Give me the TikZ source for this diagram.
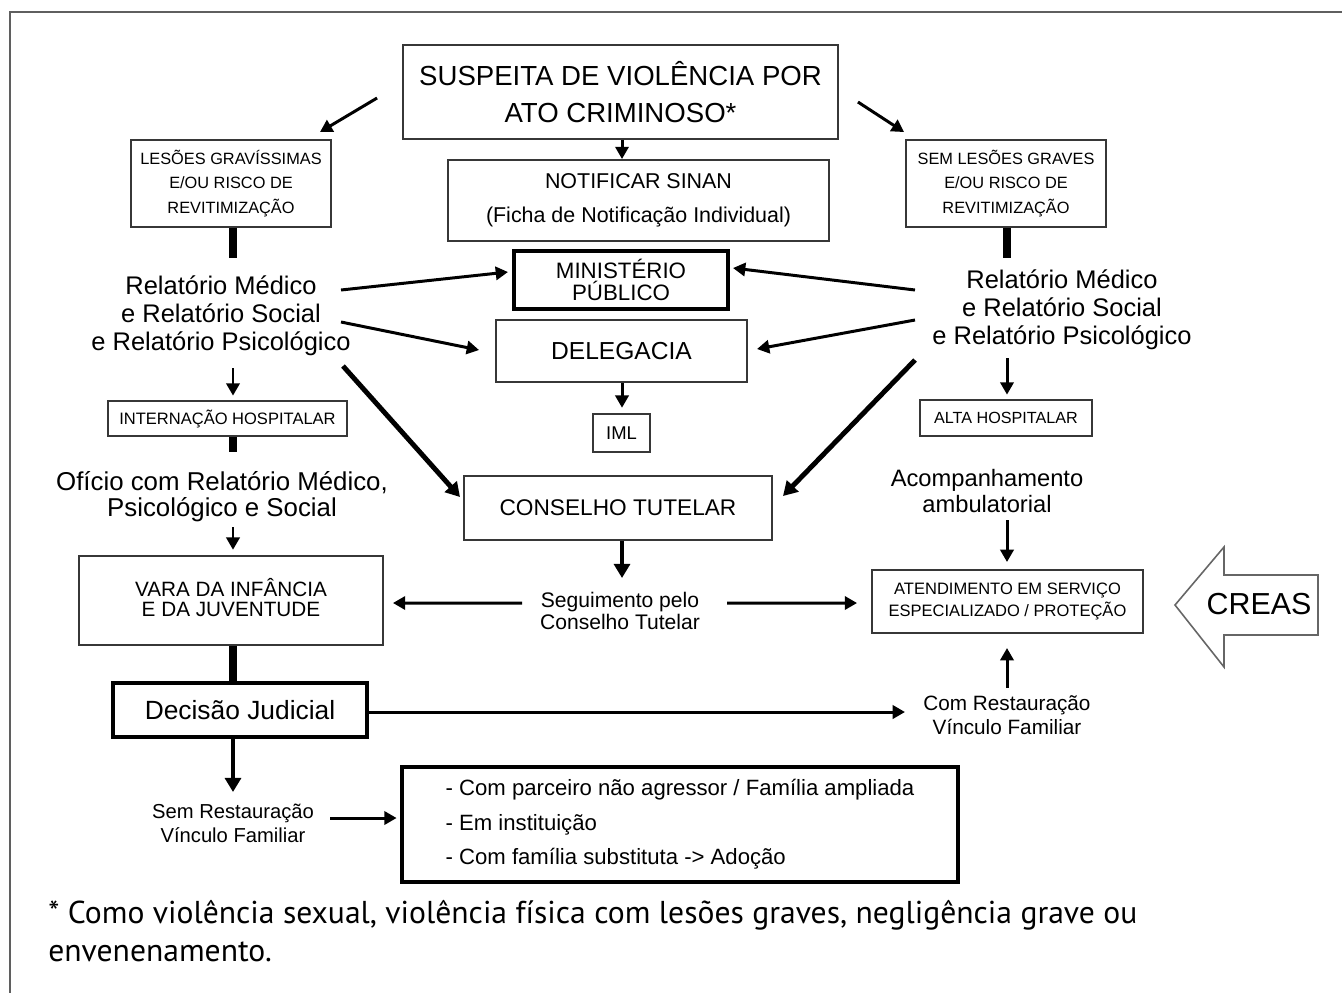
\documentclass[tikz,border=0pt]{standalone}
\usepackage{fontspec}
\setmainfont{Liberation Sans}
\newfontfamily\notafont{PT Sans}
\usetikzlibrary{arrows.meta,calc}
\definecolor{borda}{RGB}{55, 55, 55}
\definecolor{moldura}{RGB}{95, 95, 95}
\newcommand{\tam}[2]{\fontsize{#1}{#2}\selectfont}
\tikzset{
  caixa/.style={draw=borda, line width=1.1pt, align=center, inner sep=0pt},
  caixagrossa/.style={draw=black, line width=2.2pt, align=center, inner sep=0pt},
  texto/.style={align=center, inner sep=0pt},
  seta/.style={line width=1.7pt, -{Triangle[length=7pt,width=7.5pt]}},
  setagrossa/.style={line width=2.8pt, -{Triangle[length=8pt,width=9pt]}},
  haste/.style={line width=4pt},
}

\begin{document}
\begin{tikzpicture}[x=0.02cm, y=-0.02cm]
                \clip (0,0) rectangle (1342,992);
                \fill[white] (0,0) rectangle (1342,992);
                \draw[moldura, line width=1.3pt] (10,1000) -- (10,12) -- (1350,12);
                \coordinate (eixoE) at (233,0);
                \coordinate (eixoC) at (622,0);
                \coordinate (eixoD) at (1007,0);

                % topo
                \node[caixa, minimum width=8.7cm, minimum height=1.88cm, font=\tam{15.7}{21.5}] (suspeita) at (620.5,92) {SUSPEITA DE VIOLÊNCIA POR\\ATO CRIMINOSO*};
                \node[caixa, minimum width=7.62cm, minimum height=1.62cm, font=\tam{12.2}{19.3}] (notificar) at (638.5,200.5) {NOTIFICAR SINAN\\(Ficha de Notificação Individual)};
                \node[caixa, minimum width=4cm, minimum height=1.74cm, font=\tam{9.3}{14}] (graves) at (231,183.5) {LESÕES GRAVÍSSIMAS\\E/OU RISCO DE\\REVITIMIZAÇÃO};
                \node[caixa, minimum width=4cm, minimum height=1.74cm, font=\tam{9.3}{14}] (semgraves) at (1006,183.5) {SEM LESÕES GRAVES\\E/OU RISCO DE\\REVITIMIZAÇÃO};

                % relatorios
                \node[texto, font=\tam{14.5}{15.9}] (relEsq) at (221,316) {Relatório Médico\\e Relatório Social\\e Relatório Psicológico};
                \node[texto, font=\tam{14.5}{15.9}] (relDir) at (1062,310) {Relatório Médico\\e Relatório Social\\e Relatório Psicológico};

                % centro
                \node[caixagrossa, minimum width=4.28cm, minimum height=1.16cm, font=\tam{12.7}{12.5}] (ministerio) at (621,280) {MINISTÉRIO\\PÚBLICO};
                \node[caixa, minimum width=5.02cm, minimum height=1.24cm, font=\tam{14}{16}] (delegacia) at (621.5,351) {DELEGACIA};
                \node[caixa, minimum width=1.14cm, minimum height=0.76cm, font=\tam{10.5}{12}] (iml) at (621.5,433) {IML};
                \node[caixa, minimum width=6.16cm, minimum height=1.28cm, font=\tam{12.9}{15}] (conselho) at (618,508) {CONSELHO TUTELAR};
                \node[texto, font=\tam{12}{13}] (seguimento) at (620,611) {Seguimento pelo\\Conselho Tutelar};

                % coluna esquerda
                \node[caixa, minimum width=4.78cm, minimum height=0.7cm, font=\tam{9.4}{11}] (internacao) at (227.5,418.5) {INTERNAÇÃO HOSPITALAR};
                \node[texto, font=\tam{14.7}{14.7}] (oficio) at (222,497) {Ofício com Relatório Médico,\\Psicológico e Social};
                \node[caixa, minimum width=6.08cm, minimum height=1.78cm, font=\tam{11.8}{11.3}] (vara) at (231,600.5) {\raisebox{8pt}{\begin{tabular}{@{}c@{}}VARA DA INFÂNCIA\\E DA JUVENTUDE\end{tabular}}};
                \node[caixagrossa, minimum width=5.08cm, minimum height=1.08cm, font=\tam{15}{17}] (decisao) at (240,710) {Decisão Judicial};
                \node[texto, font=\tam{11.5}{13.6}] (semrest) at (233,823) {Sem Restauração\\Vínculo Familiar};
                \node[caixagrossa, minimum width=11.12cm, minimum height=2.3cm, font=\tam{12.6}{19.6}, align=left] (destino) at (680,824.5) {- Com parceiro não agressor / Família ampliada\\- Em instituição\\- Com família substituta -> Adoção};

                % coluna direita
                \node[caixa, minimum width=3.44cm, minimum height=0.72cm, font=\tam{9.2}{11}] (alta) at (1006,418) {ALTA HOSPITALAR};
                \node[texto, font=\tam{13.5}{14.7}] (acomp) at (987,491) {Acompanhamento\\ambulatorial};
                \node[caixa, minimum width=5.42cm, minimum height=1.26cm, font=\tam{9.4}{13}] (atendimento) at (1007.5,601.5) {ATENDIMENTO EM SERVIÇO\\ESPECIALIZADO / PROTEÇÃO};
                \node[texto, font=\tam{11.8}{13.6}] (comrest) at (1007,715) {Com Restauração\\Vínculo Familiar};

                % CREAS
                \draw[gray!80!black, line width=0.9pt, fill=white] (1175,605) -- (1224,547) -- (1224,575) -- (1318,575) -- (1318,635) -- (1224,635) -- (1224,667) -- cycle;
                \node[texto, font=\tam{17.3}{20}] (creas) at (1259,604) {CREAS};

                % nota
                \node[texto, anchor=west, align=left, font=\notafont\tam{18}{21.5}] (nota) at (48,931) {* Como violência sexual, violência física com lesões graves, negligência grave ou\\envenenamento.};

                % ligacoes
                \draw[seta] (suspeita.south -| eixoC) -- (notificar.north -| eixoC);
                \draw[seta] ($(suspeita.west)+(-25,6)$) -- ($(graves.north east)+(-12,-7)$);
                \draw[seta] ($(suspeita.east)+(19,10)$) -- ($(semgraves.north west)+(-1,-7)$);
                \draw[haste] (graves.south -| eixoE) -- ($(relEsq)+(12,-58)$);
                \draw[haste] (semgraves.south -| eixoD) -- ($(relDir)+(-55,-52)$);

                \draw[seta] ($(relEsq)+(120,-26)$) -- ($(ministerio)+(-113,-8)$);
                \draw[seta] ($(relEsq)+(120,6)$) -- ($(delegacia)+(-142.5,-1)$);
                \draw[setagrossa] ($(relEsq)+(122,50)$) -- ($(conselho)+(-158,-11)$);
                \draw[seta] ($(relDir)+(-147,-20)$) -- ($(ministerio)+(112,-12)$);
                \draw[seta] ($(relDir)+(-147,10)$) -- ($(delegacia)+(135.5,-2)$);
                \draw[setagrossa] ($(relDir)+(-147,50)$) -- ($(conselho)+(165,-12)$);

                \draw[seta, shorten >=3pt] (delegacia.south -| eixoC) -- (iml.north -| eixoC);
                \draw[setagrossa] (conselho.south -| eixoC) -- ($(seguimento)+(2,-33)$);
                \draw[seta] ($(seguimento)+(-98,-8)$) -- ($(vara.east)+(9,2.5)$);
                \draw[seta] ($(seguimento)+(107,-8)$) -- ($(atendimento.west)+(-14,1.5)$);

                \draw[seta, shorten >=2.5pt] ($(relEsq)+(12,52)$) -- (internacao.north -| eixoE);
                \draw[haste] (internacao.south -| eixoE) -- ($(oficio)+(11,-45)$);
                \draw[seta, shorten >=3pt] ($(oficio)+(11,30)$) -- (vara.north -| eixoE);
                \draw[haste] (vara.south -| eixoE) -- (decisao.north -| eixoE);
                \draw[setagrossa] (decisao.south -| eixoE) -- ($(semrest)+(0,-31)$);
                \draw[seta, shorten >=2pt] ($(semrest)+(97,-5)$) -- ($(destino.west)+(0,-6.5)$);
                \draw[seta] ($(decisao.east)+(0,2)$) -- ($(comrest)+(-102,-3)$);

                \draw[seta, shorten >=2.5pt] ($(relDir)+(-55,48)$) -- (alta.north -| eixoD);
                \draw[seta, shorten >=4pt] ($(acomp)+(20,29)$) -- (atendimento.north -| eixoD);
                \draw[seta, shorten >=8pt] ($(comrest)+(0,-27)$) -- (atendimento.south -| eixoD);
            \end{tikzpicture}
\end{document}
